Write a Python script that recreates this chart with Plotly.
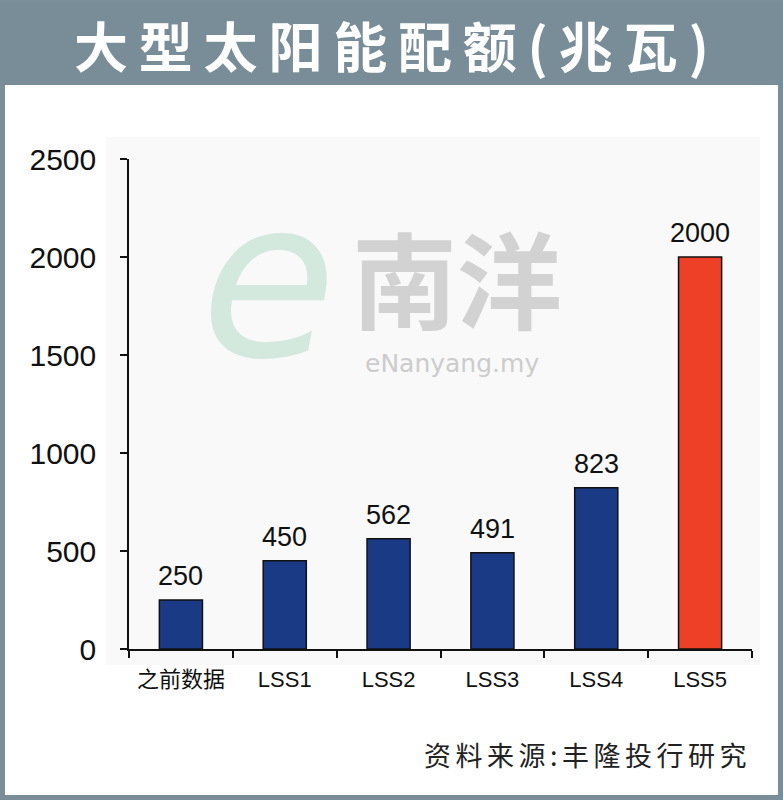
import plotly.graph_objects as go

categories = ["之前数据", "LSS1", "LSS2", "LSS3", "LSS4", "LSS5"]
values = [250, 450, 562, 491, 823, 2000]
bar_colors = ["#1b3a85", "#1b3a85", "#1b3a85", "#1b3a85", "#1b3a85", "#ee4027"]
y_ticks = [0, 500, 1000, 1500, 2000, 2500]

title_text = "大型太阳能配额(兆瓦)"
source_text = "资料来源:丰隆投行研究"

W, H = 783, 800
L, R, T, B = 129, 31, 159, 151

fig = go.Figure()
fig.add_trace(go.Bar(
    x=categories, y=values,
    marker=dict(color=bar_colors, line=dict(color="#111111", width=1.5)),
    width=0.415,
    hoverinfo="skip",
))

def px_x(p):
    return (p - L) / (W - L - R)

def px_y(p):
    return (H - B - p) / (H - T - B)

annotations = []
# value labels
for c, v in zip(categories, values):
    annotations.append(dict(
        x=c, y=v, xref="x", yref="y", text=str(v), showarrow=False,
        yanchor="bottom", yshift=7,
        font=dict(family="Liberation Sans Narrow, Liberation Sans, Arial", size=27, color="#111111"),
    ))

sp = "\u2009"
annotations.append(dict(
    x=px_x(391), y=px_y(44), xref="paper", yref="paper", showarrow=False,
    text=sp.join(list(title_text)), xanchor="center", yanchor="middle",
    font=dict(family="Noto Sans CJK SC", size=54, color="white", weight=700),
))
annotations.append(dict(
    x=px_x(749), y=px_y(754), xref="paper", yref="paper", showarrow=False,
    text="\u2006".join(list(source_text)), xanchor="right", yanchor="middle",
    font=dict(family="Noto Sans CJK SC", size=27, color="#222222"),
))
# watermark
annotations.append(dict(
    x=px_x(268), y=px_y(280), xref="paper", yref="paper", showarrow=False,
    text="<i>e</i>", xanchor="center", yanchor="middle",
    font=dict(family="DejaVu Sans", size=220, color="#d3e9dd", weight=200),
))
annotations.append(dict(
    x=px_x(457), y=px_y(275), xref="paper", yref="paper", showarrow=False,
    text="南洋", xanchor="center", yanchor="middle",
    font=dict(family="Noto Sans CJK SC", size=105, color="#d2d2d2", weight=700),
))
annotations.append(dict(
    x=px_x(452), y=px_y(363), xref="paper", yref="paper", showarrow=False,
    text="eNanyang.my", xanchor="center", yanchor="middle",
    font=dict(family="DejaVu Sans", size=25, color="#cccccc"),
))

shapes = [
    # outer frame
    dict(type="rect", xref="paper", yref="paper", layer="below",
         x0=px_x(2.5), x1=px_x(780.5), y0=px_y(2), y1=px_y(797.5),
         line=dict(color="#7a8e99", width=5), fillcolor="white"),
    # title bar
    dict(type="rect", xref="paper", yref="paper", layer="below",
         x0=px_x(0), x1=px_x(783), y0=px_y(3), y1=px_y(85),
         line=dict(width=0), fillcolor="#788d98"),
    # light plot background panel
    dict(type="rect", xref="paper", yref="paper", layer="below",
         x0=px_x(106), x1=px_x(760), y0=px_y(137), y1=px_y(665),
         line=dict(width=0), fillcolor="#f9f9f9"),
]

fig.update_layout(
    width=W, height=H,
    margin=dict(l=L, r=R, t=T, b=B),
    paper_bgcolor="white",
    plot_bgcolor="rgba(0,0,0,0)",
    showlegend=False,
    annotations=annotations,
    shapes=shapes,
    xaxis=dict(
        type="category", showgrid=False, zeroline=False,
        showline=True, linecolor="#111111", linewidth=1.5,
        ticks="outside", tickson="boundaries", ticklen=7, tickwidth=1.5, tickcolor="#111111",
        tickfont=dict(family="Liberation Sans, Noto Sans CJK SC", size=22, color="#111111"),
        ticklabelstandoff=10,
        fixedrange=True,
    ),
    yaxis=dict(
        range=[0, 2500], tickvals=y_ticks, showgrid=False, zeroline=False,
        showline=True, linecolor="#111111", linewidth=1.5,
        ticks="outside", ticklen=7, tickwidth=1.5, tickcolor="#111111",
        tickfont=dict(family="Liberation Sans, Arial", size=30, color="#111111"),
        ticklabelstandoff=18,
        fixedrange=True,
    ),
)

fig.write_html(
    "out.html",
    config={"displayModeBar": False},
    post_script="document.body.style.margin='0';document.body.style.overflow='hidden';",
)
